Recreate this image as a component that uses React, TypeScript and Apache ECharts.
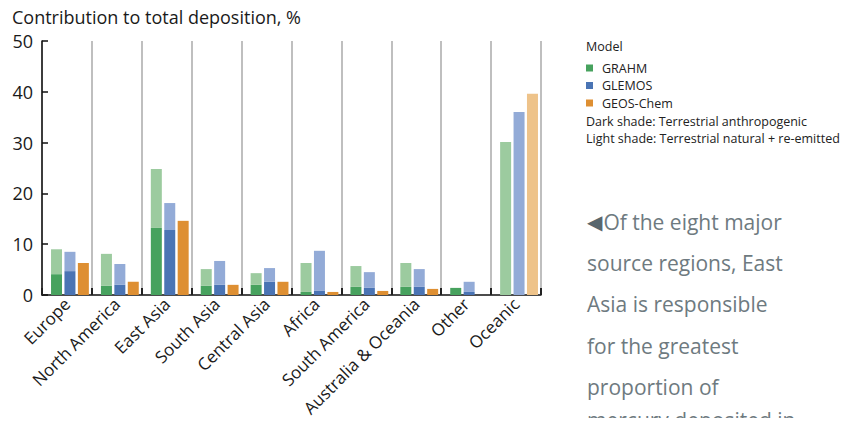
import React, { useEffect, useRef } from "react";
import * as echarts from "echarts";

const categories = [
  "Europe",
  "North America",
  "East Asia",
  "South Asia",
  "Central Asia",
  "Africa",
  "South America",
  "Australia & Oceania",
  "Other",
  "Oceanic",
];

// Dark shade: terrestrial anthropogenic; total = dark + light (natural + re-emitted)
const grahmAnthro = [4.1, 1.8, 13.2, 1.8, 2.0, 0.6, 1.6, 1.6, 1.4, 0];
const grahmTotal = [9.0, 8.1, 24.8, 5.1, 4.3, 6.3, 5.7, 6.3, 1.4, 30.1];
const glemosAnthro = [4.7, 2.0, 12.8, 2.0, 2.6, 0.8, 1.4, 1.6, 0.6, 0];
const glemosTotal = [8.5, 6.1, 18.1, 6.7, 5.3, 8.7, 4.5, 5.1, 2.6, 36.0];
const geosAnthro = [6.3, 2.6, 14.6, 2.0, 2.6, 0.6, 0.8, 1.2, 0, 0];
const geosTotal = [6.3, 2.6, 14.6, 2.0, 2.6, 0.6, 0.8, 1.2, 0, 39.6];

const yTicks = [0, 10, 20, 30, 40, 50];

const models = ["GRAHM", "GLEMOS", "GEOS-Chem"];
const darkColors = ["#47a25e", "#4a74b4", "#de8f32"];
const lightColors = ["#9ccb9f", "#93abd7", "#eec38a"];

const noteLines = [
  "Dark shade: Terrestrial anthropogenic",
  "Light shade: Terrestrial natural + re-emitted",
];

const sideText = [
  "{tri|◀}Of the eight major",
  "source regions, East",
  "Asia is responsible",
  "for the greatest",
  "proportion of",
  "mercury deposited in",
];
const sideY = [222, 263, 304, 346, 387, 420];

const FONT = "'Open Sans', 'Noto Sans', sans-serif";

export default function App() {
  const ref = useRef<HTMLDivElement>(null);

  useEffect(() => {
    if (!ref.current) return;
    const chart = echarts.init(ref.current, undefined, { renderer: "svg" });

    const anthro = [grahmAnthro, glemosAnthro, geosAnthro];
    const totals = [grahmTotal, glemosTotal, geosTotal];
    const series: any[] = [];
    models.forEach((m, i) => {
      series.push({
        name: m,
        type: "bar",
        xAxisIndex: 1,
        yAxisIndex: 1,
        stack: m,
        barWidth: 11,
        barGap: "22%",
        itemStyle: { color: darkColors[i] },
        data: anthro[i],
      });
      series.push({
        name: m + " natural",
        type: "bar",
        xAxisIndex: 1,
        yAxisIndex: 1,
        stack: m,
        barWidth: 11,
        barGap: "22%",
        itemStyle: { color: lightColors[i] },
        data: totals[i].map((t, j) => Math.round((t - anthro[i][j]) * 10) / 10),
      });
    });

    const legendGraphics: any[] = [
      {
        type: "text",
        x: 586,
        y: 46,
        style: { text: "Model", fontSize: 12.5, fill: "#222", fontFamily: FONT, verticalAlign: "middle" },
      },
    ];
    models.forEach((m, i) => {
      const cy = 68 + i * 17.5;
      legendGraphics.push({
        type: "rect",
        shape: { x: 586, y: cy - 3.5, width: 7, height: 7 },
        style: { fill: darkColors[i] },
      });
      legendGraphics.push({
        type: "text",
        x: 602,
        y: cy,
        style: {
          text: m,
          fontSize: 12.5,
          fill: "#222",
          fontFamily: FONT,
          verticalAlign: "middle",
        },
      });
    });
    noteLines.forEach((t, i) => {
      legendGraphics.push({
        type: "text",
        x: 586,
        y: 121 + i * 17,
        style: {
          text: t,
          fontSize: 12.5,
          fill: "#222",
          fontFamily: FONT,
          verticalAlign: "middle",
        },
      });
    });

    const sideGraphics = sideText.map((t, i) => ({
      type: "text",
      x: 587,
      y: sideY[i],
      style: {
        text: t,
        fontSize: 21,
        fill: "#6e7a80",
        fontFamily: FONT,
        verticalAlign: "middle",
        rich: {
          tri: { fontSize: 20, fill: "#5a666c", fontFamily: "DejaVu Sans", padding: [0, 1, 0, 0] },
        },
      },
    }));

    chart.setOption({
      animation: false,
      textStyle: { fontFamily: FONT },
      grid: [
        { left: 42, top: 41, width: 499, height: 254 },
        { left: 45, top: 41, width: 499, height: 254 },
      ],
      xAxis: [
        {
          type: "category",
          gridIndex: 0,
          data: categories,
          axisLine: { lineStyle: { color: "#111", width: 1.5 } },
          axisTick: {
            show: true,
            inside: true,
            length: 7,
            interval: 0,
            lineStyle: { color: "#222", width: 2 },
          },
          splitLine: {
            show: true,
            interval: 0,
            lineStyle: { color: "#aaa", width: 1.5 },
          },
          axisLabel: {
            interval: 0,
            rotate: 45,
            fontSize: 17,
            color: "#1a1a1a",
            margin: 6,
            fontFamily: FONT,
          },
        },
        {
          type: "category",
          gridIndex: 1,
          data: categories,
          show: false,
        },
      ],
      yAxis: [
        {
          type: "value",
          gridIndex: 0,
          min: yTicks[0],
          max: yTicks[yTicks.length - 1],
          interval: 10,
          axisLine: { show: true, lineStyle: { color: "#111", width: 1.5 } },
          axisTick: {
            show: true,
            inside: true,
            length: 6,
            lineStyle: { color: "#111", width: 1.5 },
          },
          axisLabel: { fontSize: 18, color: "#1a1a1a", margin: 9, fontFamily: FONT },
          splitLine: { show: false },
        },
        {
          type: "value",
          gridIndex: 1,
          min: yTicks[0],
          max: yTicks[yTicks.length - 1],
          interval: 10,
          show: false,
        },
      ],
      series,
      graphic: [
        {
          type: "text",
          x: 12,
          y: 17,
          style: {
            text: "Contribution to total deposition, %",
            fontSize: 18,
            fill: "#1a1a1a",
            fontFamily: FONT,
            verticalAlign: "middle",
          },
        },
        ...legendGraphics,
        ...sideGraphics,
      ],
    });

    return () => chart.dispose();
  }, []);

  return <div ref={ref} style={{ width: 854, height: 426, margin: -8 }} />;
}
